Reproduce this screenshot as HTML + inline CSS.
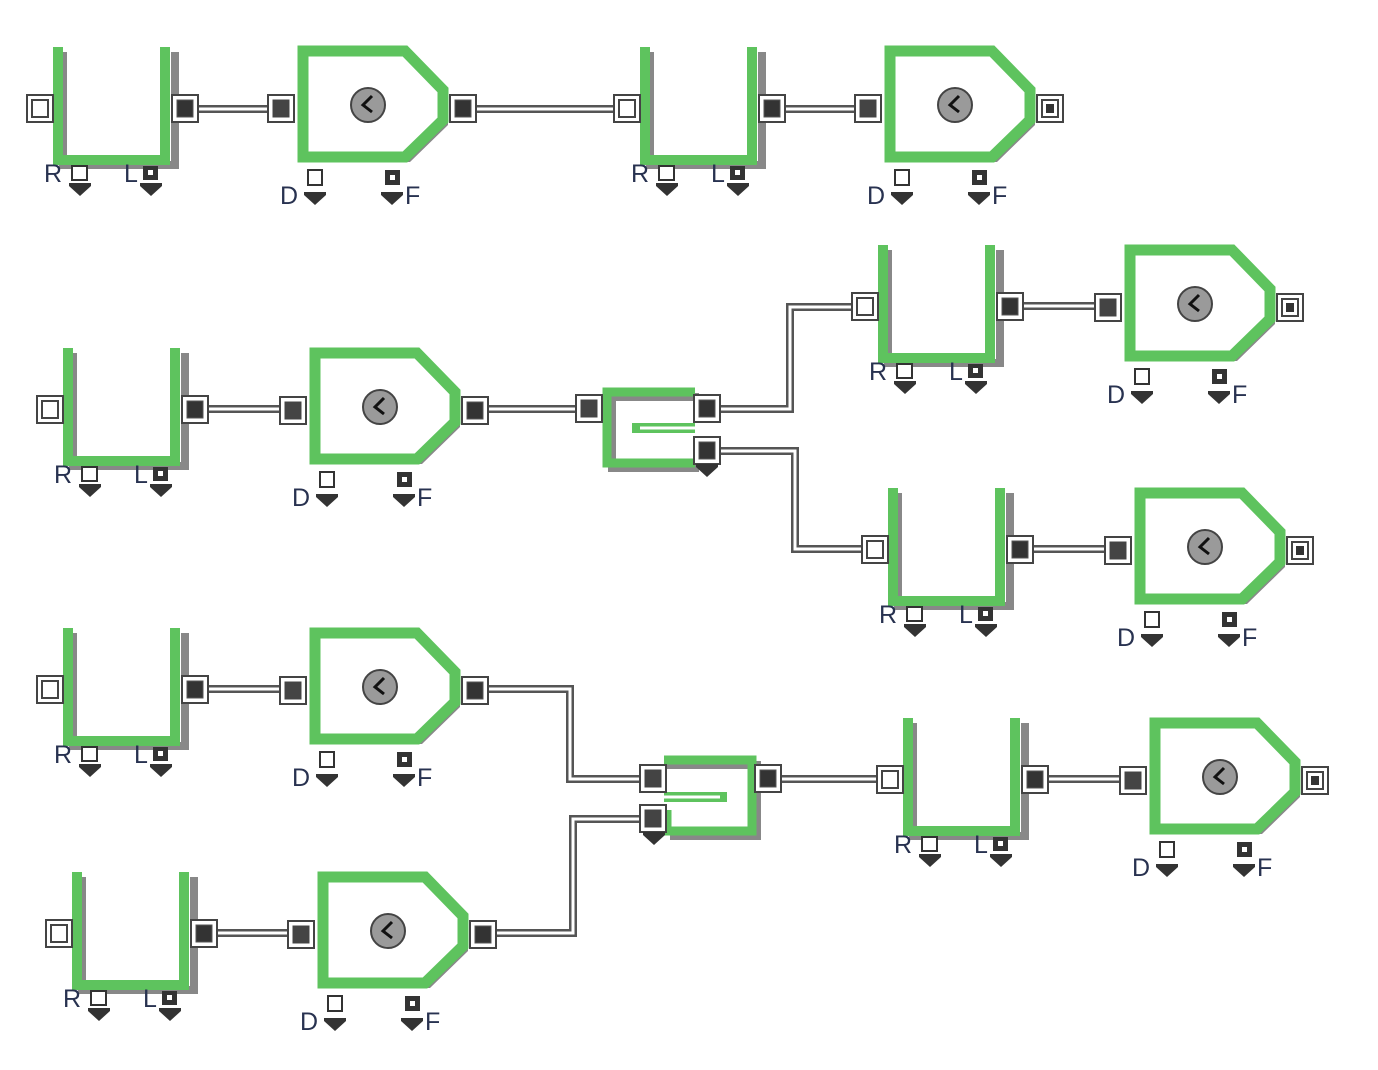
<!DOCTYPE html>
<html><head><meta charset="utf-8"><style>
html,body{margin:0;padding:0;background:#fff;width:1378px;height:1070px;overflow:hidden}
svg{display:block}
text{font-family:"Liberation Sans",sans-serif;font-size:25px;fill:#283250}
</style></head><body>
<svg width="1378" height="1070" viewBox="0 0 1378 1070" xmlns="http://www.w3.org/2000/svg">
<defs>
<g id="pin"><rect x="0" y="0" width="26" height="27" fill="#fff" stroke="#444" stroke-width="2"/><rect x="5" y="5" width="16" height="17" fill="#fff" stroke="#444" stroke-width="2"/></g>
<g id="pin2"><rect x="0" y="0" width="26" height="27" fill="#fff" stroke="#444" stroke-width="2"/><rect x="5" y="5" width="16" height="17" fill="#444" stroke="#444" stroke-width="1"/></g>
<g id="pend"><rect x="0" y="0" width="26" height="27" fill="#fff" stroke="#444" stroke-width="2"/><rect x="5" y="5" width="16" height="17" fill="#fff" stroke="#444" stroke-width="2"/><rect x="9" y="9" width="8" height="9" fill="#333"/></g>
<g id="pout"><rect x="0" y="0" width="26" height="27" fill="#fff" stroke="#444" stroke-width="2"/><rect x="5" y="5" width="16" height="17" fill="#333" stroke="#555" stroke-width="1"/></g>
<g id="arr"><polygon points="0,0 22,0 22,3 11,13 0,3" fill="#333"/></g>
<g id="Q">
 <polyline points="10,5 10,118 122,118 122,5" fill="none" stroke="#888" stroke-width="8"/>
 <polyline points="5,0 5,113 112,113 112,0" fill="none" stroke="#5ec35e" stroke-width="10"/>
 <use href="#pin" x="-26" y="48"/>
 <use href="#pout" x="119" y="48"/>
 <rect x="19" y="119" width="15" height="14" fill="#fff" stroke="#333" stroke-width="2"/>
 <use href="#arr" x="16" y="136"/>
 <rect x="90" y="119" width="15" height="14" fill="#333"/><rect x="95" y="123" width="5" height="5" fill="#fff"/>
 <use href="#arr" x="87" y="136"/>
</g>
<g id="S">
 <polygon points="10,10 112,10 150,49 150,79 112,116 10,116" fill="#888"/>
 <polygon points="5,5 107,5 145,44 145,74 107,111 5,111" fill="#fff" stroke="#5ec35e" stroke-width="11"/>
 <circle cx="70" cy="59" r="17" fill="#9a9a9a" stroke="#444" stroke-width="2"/>
 <polyline points="74,50 65,59 74,66" fill="none" stroke="#111" stroke-width="3"/>
 <use href="#pin2" x="-30" y="49"/>
 <rect x="10" y="124" width="14" height="15" fill="#fff" stroke="#333" stroke-width="2"/>
 <use href="#arr" x="6" y="146"/>
 <rect x="87" y="124" width="15" height="15" fill="#333"/><rect x="92" y="129" width="5" height="5" fill="#fff"/>
 <use href="#arr" x="83" y="146"/>
</g>
</defs>

<g fill="none">
<g stroke="#555" stroke-width="8">
<path d="M190,109H280 M468,109H626 M777,109H867 M200,409H292 M480,409H588 M712,409H790V307H864 M712,451H795V549H874 M1019,549H1117 M1009,306H1107 M200,689H292 M480,689H570V779H652 M774,779H889 M1040,779H1132 M209,933H300 M488,933H573V819H652"/>
</g>
<g stroke="#fff" stroke-width="3">
<path d="M190,109H280 M468,109H626 M777,109H867 M200,409H292 M480,409H588 M712,409H790V307H864 M712,451H795V549H874 M1019,549H1117 M1009,306H1107 M200,689H292 M480,689H570V779H652 M774,779H889 M1040,779H1132 M209,933H300 M488,933H573V819H652"/>
</g>
</g>

<use href="#Q" x="53" y="47"/>
<use href="#Q" x="640" y="47"/>
<use href="#Q" x="63" y="348"/>
<use href="#Q" x="878" y="245"/>
<use href="#Q" x="888" y="488"/>
<use href="#Q" x="63" y="628"/>
<use href="#Q" x="903" y="718"/>
<use href="#Q" x="72" y="872"/>

<use href="#S" x="298" y="46"/><use href="#pout" x="450" y="95"/>
<use href="#S" x="885" y="46"/><use href="#pend" x="1037" y="95"/>
<use href="#S" x="310" y="348"/><use href="#pout" x="462" y="397"/>
<use href="#S" x="1125" y="245"/><use href="#pend" x="1277" y="294"/>
<use href="#S" x="1135" y="488"/><use href="#pend" x="1287" y="537"/>
<use href="#S" x="310" y="628"/><use href="#pout" x="462" y="677"/>
<use href="#S" x="1150" y="718"/><use href="#pend" x="1302" y="767"/>
<use href="#S" x="318" y="872"/><use href="#pout" x="470" y="921"/>

<g>
<path d="M699,397H612V468H699" fill="none" stroke="#888" stroke-width="8"/>
<path d="M695,392H607V463H695" fill="none" stroke="#5ec35e" stroke-width="9"/>
<path d="M695,428H632" stroke="#5ec35e" stroke-width="10"/>
<path d="M695,428H640" stroke="#fff" stroke-width="3"/>
<use href="#pin2" x="576" y="395"/>
<use href="#pout" x="694" y="395"/>
<use href="#pout" x="694" y="437"/>
<use href="#arr" x="696" y="464"/>
</g>
<g>
<path d="M667,765H757V836H670" fill="none" stroke="#888" stroke-width="8"/>
<path d="M664,760H752V831H667V810" fill="none" stroke="#5ec35e" stroke-width="9"/>
<path d="M664,797H727" stroke="#5ec35e" stroke-width="10"/>
<path d="M664,797H720" stroke="#fff" stroke-width="3"/>
<use href="#pin2" x="640" y="765"/>
<use href="#pin2" x="640" y="805"/>
<use href="#arr" x="643" y="832"/>
<use href="#pout" x="755" y="765"/>
</g>

<text x="44" y="182">R</text><text x="124" y="182">L</text>
<text x="631" y="182">R</text><text x="711" y="182">L</text>
<text x="54" y="483">R</text><text x="134" y="483">L</text>
<text x="869" y="380">R</text><text x="949" y="380">L</text>
<text x="879" y="623">R</text><text x="959" y="623">L</text>
<text x="54" y="763">R</text><text x="134" y="763">L</text>
<text x="894" y="853">R</text><text x="974" y="853">L</text>
<text x="63" y="1007">R</text><text x="143" y="1007">L</text>

<text x="280" y="204">D</text><text x="405" y="204">F</text>
<text x="867" y="204">D</text><text x="992" y="204">F</text>
<text x="292" y="506">D</text><text x="417" y="506">F</text>
<text x="1107" y="403">D</text><text x="1232" y="403">F</text>
<text x="1117" y="646">D</text><text x="1242" y="646">F</text>
<text x="292" y="786">D</text><text x="417" y="786">F</text>
<text x="1132" y="876">D</text><text x="1257" y="876">F</text>
<text x="300" y="1030">D</text><text x="425" y="1030">F</text>
</svg>
</body></html>
